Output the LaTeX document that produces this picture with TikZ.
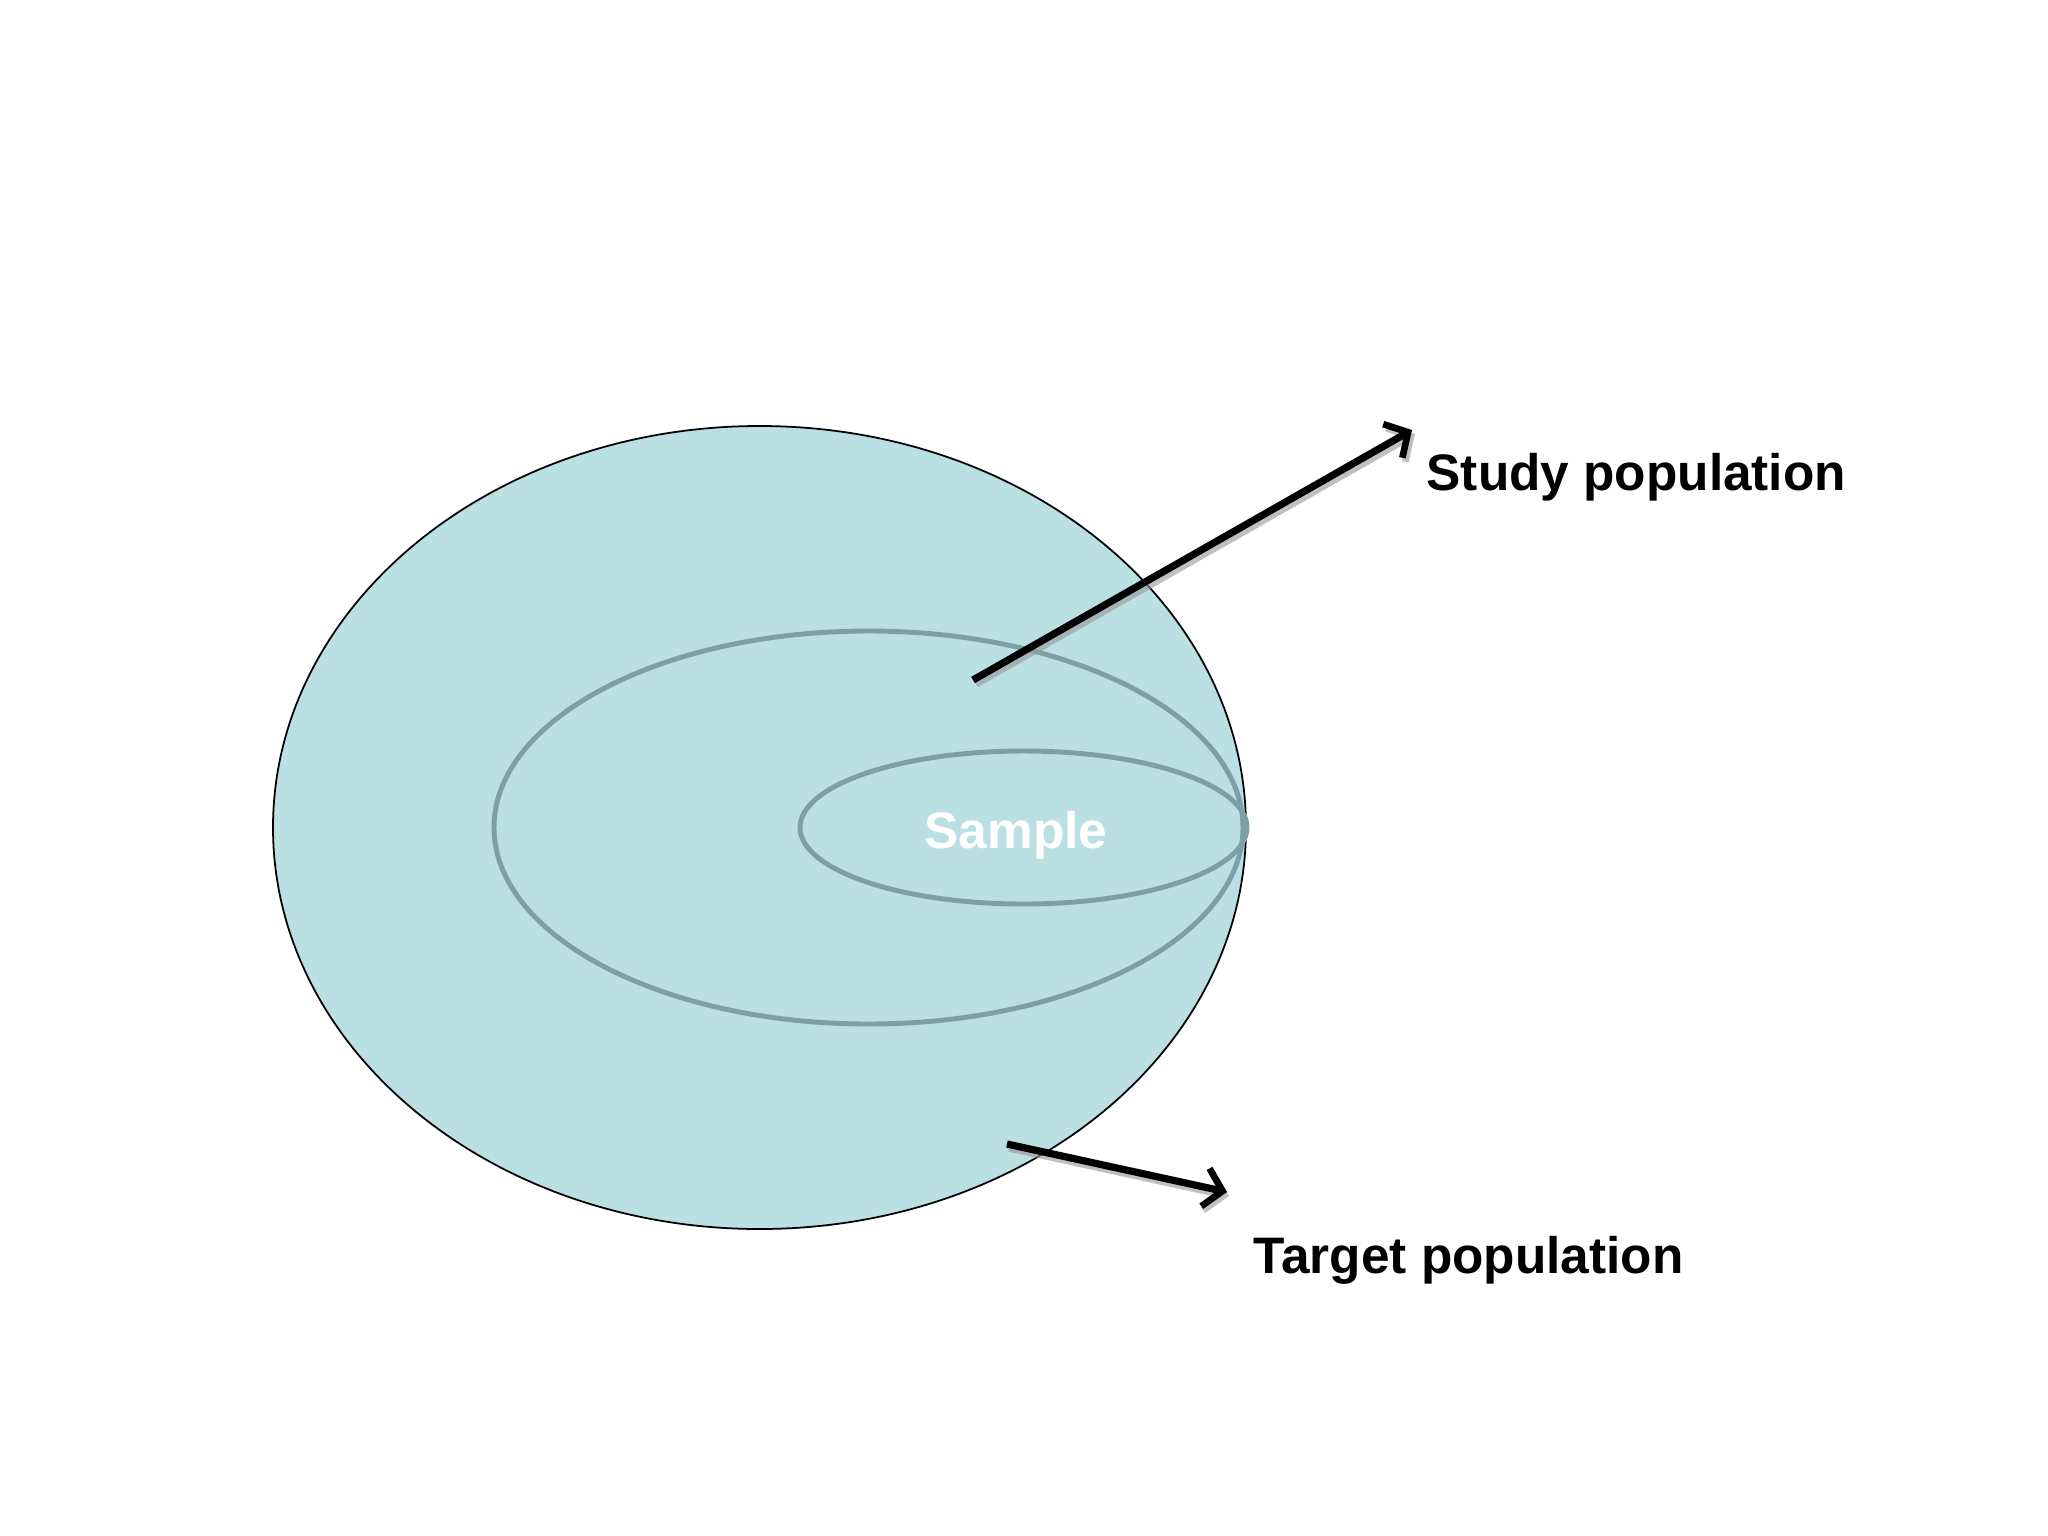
\documentclass[tikz,border=0pt]{standalone}
\usepackage{fontspec}
\setmainfont{Liberation Sans}
\usetikzlibrary{arrows.meta}
\definecolor{popfill}{RGB}{186,224,227}
\definecolor{innerline}{RGB}{124,160,163}
\definecolor{shadowgray}{RGB}{150,150,150}
\tikzset{
  lbl/.style={font=\bfseries\fontsize{14.6}{17}\selectfont, inner sep=0pt},
  ptr/.style={line width=2.05pt, -{Straight Barb[length=5pt,width=11pt,line width=1.9pt]}},
  ptrshadow/.style={ptr, draw=shadowgray, opacity=0.6},
  subset/.style={draw=innerline, line width=1.4pt}
}
\begin{document}
\begin{tikzpicture}[x=0.01cm,y=-0.01cm]
\useasboundingbox (0,0) rectangle (2048,1536);
% target population (outer)
\draw[fill=popfill, draw=black, line width=0.5pt] (759.5,827.5) ellipse [x radius=486.5, y radius=401.5];
% study population
\draw[subset] (868.5,827.5) ellipse [x radius=374.5, y radius=196.5];
% sample
\draw[subset] (1023.5,827.5) ellipse [x radius=223.5, y radius=76.5];
\node[lbl, text=white, anchor=base] (sample) at (1016,848) {Sample};
\node[lbl, anchor=base west] (study) at (1426,490) {Study population};
\node[lbl, anchor=base west] (target) at (1253,1273) {Target population};
\coordinate (s1) at (973,680);
\coordinate (s2) at (1412,430);
\coordinate (t1) at (1007,1144);
\coordinate (t2) at (1227,1192);
\coordinate (s1b) at (976,684);
\coordinate (s2b) at (1415,434);
\coordinate (t1b) at (1009,1148);
\coordinate (t2b) at (1229,1196);
\draw[ptrshadow] (s1b) -- (s2b);
\draw[ptrshadow] (t1b) -- (t2b);
\draw[ptr] (s1) -- (s2);
\draw[ptr] (t1) -- (t2);
\end{tikzpicture}
\end{document}
